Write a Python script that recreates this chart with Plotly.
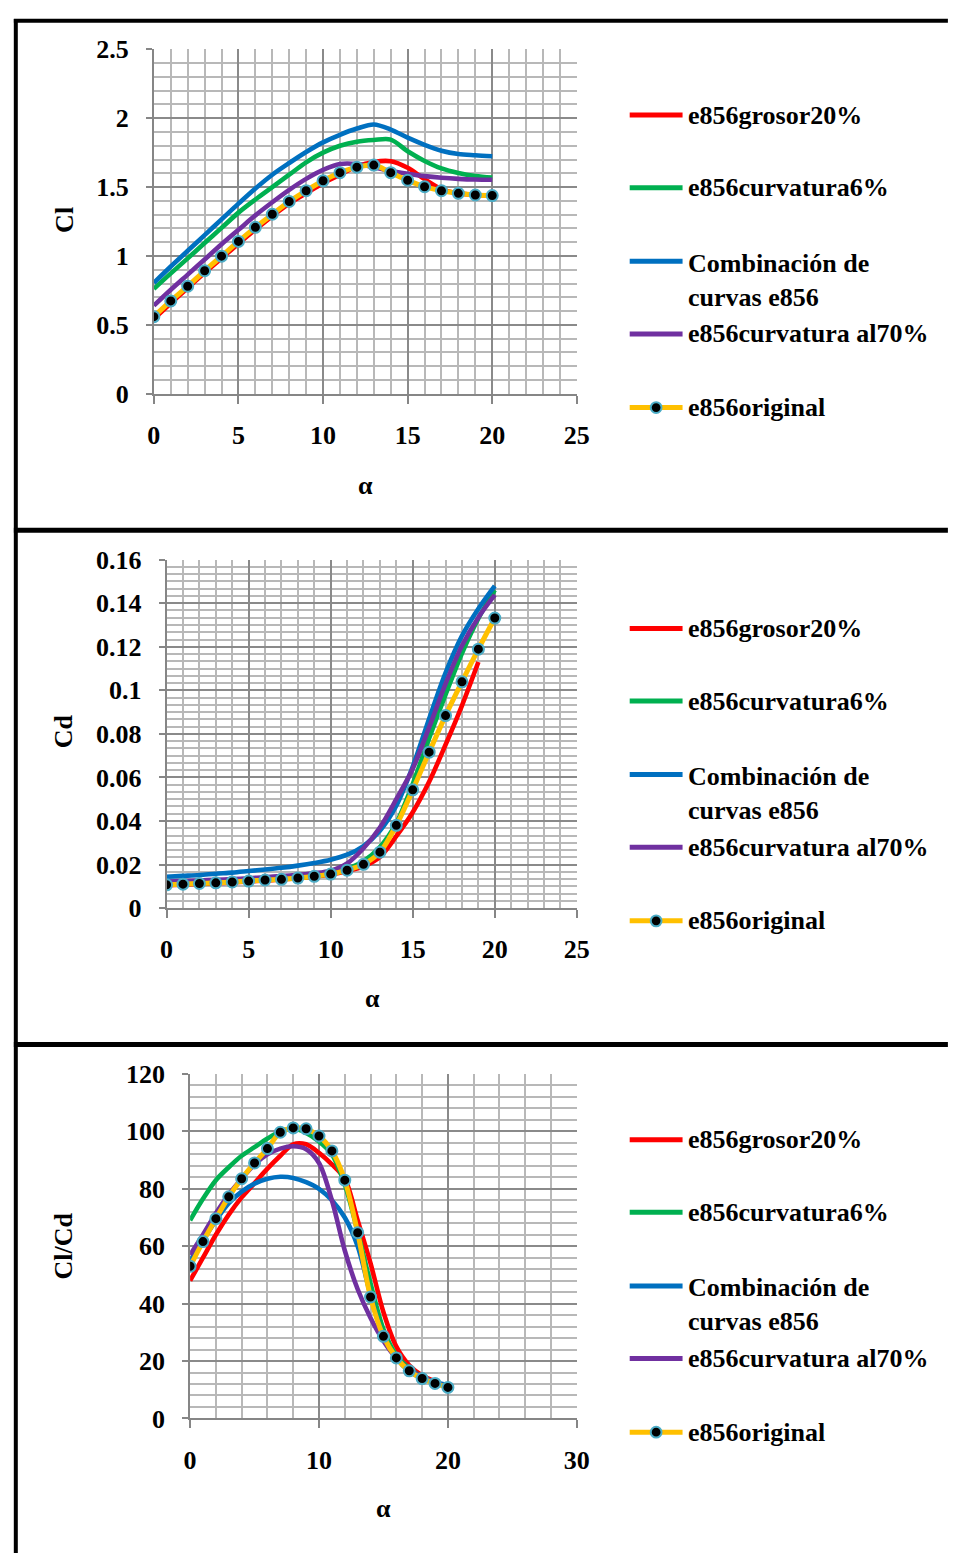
import plotly.graph_objects as go

W, H = 956, 1563

alpha = list(range(0, 21))

series_names = ["e856grosor20%", "e856curvatura6%", "Combinación de curvas e856",
                "e856curvatura al70%", "e856original"]
legend_labels = ["e856grosor20%", "e856curvatura6%", "Combinación de<br>curvas e856",
                 "e856curvatura al70%", "e856original"]

# ---- Cl vs alpha ----
cl_grosor20 = [0.545, 0.657, 0.768, 0.878, 0.984, 1.09, 1.192, 1.29, 1.38, 1.455, 1.528,
               1.59, 1.65, 1.683, 1.688, 1.64, 1.558, 1.486, 1.455, 1.443, 1.44]
cl_curv6 = [0.762, 0.874, 0.983, 1.094, 1.204, 1.315, 1.41, 1.50, 1.59, 1.68, 1.75,
            1.80, 1.83, 1.842, 1.845, 1.76, 1.69, 1.636, 1.603, 1.581, 1.569]
cl_comb = [0.805, 0.924, 1.038, 1.152, 1.266, 1.38, 1.49, 1.59, 1.675, 1.755, 1.825,
           1.88, 1.925, 1.955, 1.918, 1.859, 1.807, 1.764, 1.74, 1.731, 1.724]
cl_curv70 = [0.64, 0.755, 0.865, 0.975, 1.085, 1.19, 1.295, 1.39, 1.48, 1.56, 1.625,
             1.668, 1.668, 1.645, 1.617, 1.597, 1.58, 1.568, 1.56, 1.555, 1.553]
cl_orig = [0.56, 0.674, 0.781, 0.893, 0.999, 1.106, 1.208, 1.303, 1.396, 1.474, 1.546,
           1.605, 1.645, 1.66, 1.605, 1.55, 1.503, 1.474, 1.455, 1.443, 1.439]

# ---- Cd vs alpha ----
cd_grosor20 = [0.0105, 0.0108, 0.0111, 0.0114, 0.0118, 0.0122, 0.0127, 0.0131, 0.0137, 0.0144,
               0.0154, 0.0170, 0.0192, 0.0235, 0.0330, 0.0440, 0.0580, 0.0750, 0.0930, 0.1130, None]
cd_curv6 = [0.0108, 0.0111, 0.0114, 0.0117, 0.0121, 0.0125, 0.0130, 0.0134, 0.0140, 0.0148,
            0.0158, 0.0180, 0.0215, 0.0280, 0.0390, 0.0570, 0.0780, 0.0980, 0.1170, 0.1330, 0.1460]
cd_comb = [0.0144, 0.0148, 0.0152, 0.0158, 0.0163, 0.0170, 0.0177, 0.0185, 0.0195, 0.0207,
           0.0222, 0.0245, 0.0285, 0.0355, 0.0470, 0.0650, 0.0870, 0.1080, 0.1250, 0.1375, 0.1480]
cd_curv70 = [0.0122, 0.0124, 0.0127, 0.0130, 0.0133, 0.0137, 0.0142, 0.0147, 0.0153, 0.0160,
             0.0172, 0.0205, 0.0275, 0.0370, 0.0500, 0.0640, 0.0830, 0.1030, 0.1205, 0.1335, 0.1438]
cd_orig = [0.0107, 0.0110, 0.0113, 0.0116, 0.0120, 0.0124, 0.0129, 0.0132, 0.0138, 0.0146,
           0.0156, 0.0174, 0.0201, 0.0257, 0.0380, 0.0543, 0.0716, 0.0884, 0.1039, 0.1189, 0.1332]

# ---- Cl/Cd vs alpha ----
clcd_grosor20 = [48, 56, 64, 71, 77, 82, 87, 91.5, 95.5, 95.5, 92.5, 88.5, 83.5, 69, 54,
                 37, 25, 18.5, 15, 13, None]
clcd_curv6 = [69, 76.5, 83, 87.5, 91.5, 94.5, 97.5, 100, 101, 99.5, 96.5, 92, 81.5, 65, 47,
              31, 22, 17.5, 14.5, 12.5, 11]
clcd_comb = [55, 62, 69, 75, 79, 81.8, 83.5, 84.2, 83.8, 82.3, 80, 76, 70, 60, 43,
             28.5, 21, 16.4, 14, 12.6, 11.6]
clcd_curv70 = [57, 64, 71.5, 78, 83.5, 88.5, 92, 94, 94.8, 93.8, 89, 76, 58.5, 45, 35,
               27, 21, 17, 14.5, 12.5, 11]
clcd_orig = [53.0, 61.6, 69.6, 77.2, 83.5, 89.0, 94.0, 99.7, 101.2, 100.9, 98.4, 93.2, 83.0,
             64.7, 42.3, 28.6, 21.1, 16.6, 13.9, 12.2, 10.8]

colors = ["#FF0000", "#00B050", "#0070C0", "#7030A0", "#FFC000"]
MARKER_LINE = "#4BACC6"

FONT = "Liberation Serif, Times New Roman, serif"
FS = 26


def px(x):
    return x / W


def py(y):
    return 1 - y / H


fig = go.Figure()

panels = [
    dict(data=[cl_grosor20, cl_curv6, cl_comb, cl_curv70, cl_orig],
         box=(150, 582, 36, 387), xr=[0, 25], xd=5, xm=1, yr=[0, 2.5], yd=0.5, ym=0.1,
         ytitle="Cl", ytitle_pos=(58, 210), xtitle_pos=(366, 480), leg_top=103),
    dict(data=[cd_grosor20, cd_curv6, cd_comb, cd_curv70, cd_orig],
         box=(163, 582, 556, 911), xr=[0, 25], xd=5, xm=1, yr=[0, 0.16], yd=0.02, ym=0.02 / 6,
         ytitle="Cd", ytitle_pos=(58, 731), xtitle_pos=(373, 1003), leg_top=626),
    dict(data=[clcd_grosor20, clcd_curv6, clcd_comb, clcd_curv70, clcd_orig],
         box=(187, 582, 1080, 1431), xr=[0, 30], xd=10, xm=2, yr=[0, 120], yd=20, ym=4,
         ytitle="Cl/Cd", ytitle_pos=(58, 1255), xtitle_pos=(385, 1523), leg_top=1147),
]

shapes = []
annotations = []

for i, p in enumerate(panels):
    n = "" if i == 0 else str(i + 1)
    xa, ya = "x" + n, "y" + n
    x0, x1, y0, y1 = p["box"]
    for k in range(5):
        is_orig = (k == 4)
        fig.add_trace(go.Scatter(
            x=alpha, y=p["data"][k], xaxis=xa, yaxis=ya,
            name=series_names[k], showlegend=False,
            mode="lines+markers" if is_orig else "lines",
            line=dict(color=colors[k], width=5 if is_orig else 4.6, shape="spline", smoothing=0.9),
            marker=dict(color="black", size=11, line=dict(color=MARKER_LINE, width=2)),
            connectgaps=False,
        ))
    common = dict(
        showline=True, linecolor="#868686", linewidth=2,
        ticks="outside", tickcolor="#868686", tickwidth=2,
        showgrid=True, gridcolor="#8a8a8a", gridwidth=1.8,
        zeroline=False, fixedrange=True,
        tickfont=dict(family=FONT, size=FS, color="black", weight="bold"),
    )
    fig.update_layout(**{
        "xaxis" + n: dict(
            domain=[px(x0), px(x1)], anchor=ya, range=p["xr"], dtick=p["xd"], tick0=0,
            ticklen=8, ticklabelstandoff=9,
            minor=dict(dtick=p["xm"], tick0=0, showgrid=True, gridcolor="#b8b8b8", gridwidth=1.5),
            **common),
        "yaxis" + n: dict(
            domain=[py(y1), py(y0)], anchor=xa, range=p["yr"], dtick=p["yd"], tick0=0,
            ticklen=6, ticklabelstandoff=12,
            minor=dict(dtick=p["ym"], tick0=0, showgrid=True, gridcolor="#b8b8b8", gridwidth=1.5),
            **common),
    })
    # axis titles
    tx, ty = p["ytitle_pos"]
    annotations.append(dict(text=p["ytitle"], x=px(tx), y=py(ty), xref="paper", yref="paper",
                            showarrow=False, textangle=-90, xanchor="center", yanchor="middle",
                            font=dict(family=FONT, size=FS, color="black", weight="bold")))
    ax_, ay_ = p["xtitle_pos"]
    annotations.append(dict(text="α", x=px(ax_), y=py(ay_), xref="paper", yref="paper",
                            showarrow=False, xanchor="center", yanchor="middle",
                            font=dict(family=FONT, size=FS, color="black", weight="bold")))
    # legend (drawn manually to match the reference layout)
    top = p["leg_top"]
    offsets = [0, 74, 149, 223, 298]
    for k in range(5):
        yy = top + offsets[k]
        shapes.append(dict(type="line", xref="paper", yref="paper",
                           x0=px(636), x1=px(690), y0=py(yy), y1=py(yy),
                           line=dict(color=colors[k], width=5)))
        if k == 4:
            r = 5.5
            shapes.append(dict(type="circle", xref="paper", yref="paper",
                               x0=px(663 - r), x1=px(663 + r), y0=py(yy + r), y1=py(yy - r),
                               fillcolor="black", line=dict(color=MARKER_LINE, width=2)))
        if k == 2:
            annotations.append(dict(text=legend_labels[k], x=px(694), y=py(yy - 15),
                                    xref="paper", yref="paper", showarrow=False,
                                    xanchor="left", yanchor="top", align="left",
                                    font=dict(family=FONT, size=FS, color="black", weight="bold")))
        else:
            annotations.append(dict(text=legend_labels[k], x=px(694), y=py(yy),
                                    xref="paper", yref="paper", showarrow=False,
                                    xanchor="left", yanchor="middle", align="left",
                                    font=dict(family=FONT, size=FS, color="black", weight="bold")))

# panel frames
for (xa0, ya0, xa1, ya1, w) in [(7, 7, W + 5, 7, 4), (9, 5, 9, H + 5, 4),
                                (7, 526, W + 5, 526, 5), (7, 1050, W + 5, 1050, 5)]:
    shapes.append(dict(type="line", xref="paper", yref="paper",
                       x0=px(xa0), x1=px(xa1), y0=py(ya0), y1=py(ya1),
                       line=dict(color="black", width=w)))

fig.update_layout(
    width=W, height=H, margin=dict(l=0, r=0, t=0, b=0),
    paper_bgcolor="white", plot_bgcolor="white",
    showlegend=False, shapes=shapes, annotations=annotations,
    font=dict(family=FONT, size=FS, color="black"),
)

fig.write_html("out.html",
               post_script="document.body.style.margin='0';document.body.style.overflow='hidden';")
